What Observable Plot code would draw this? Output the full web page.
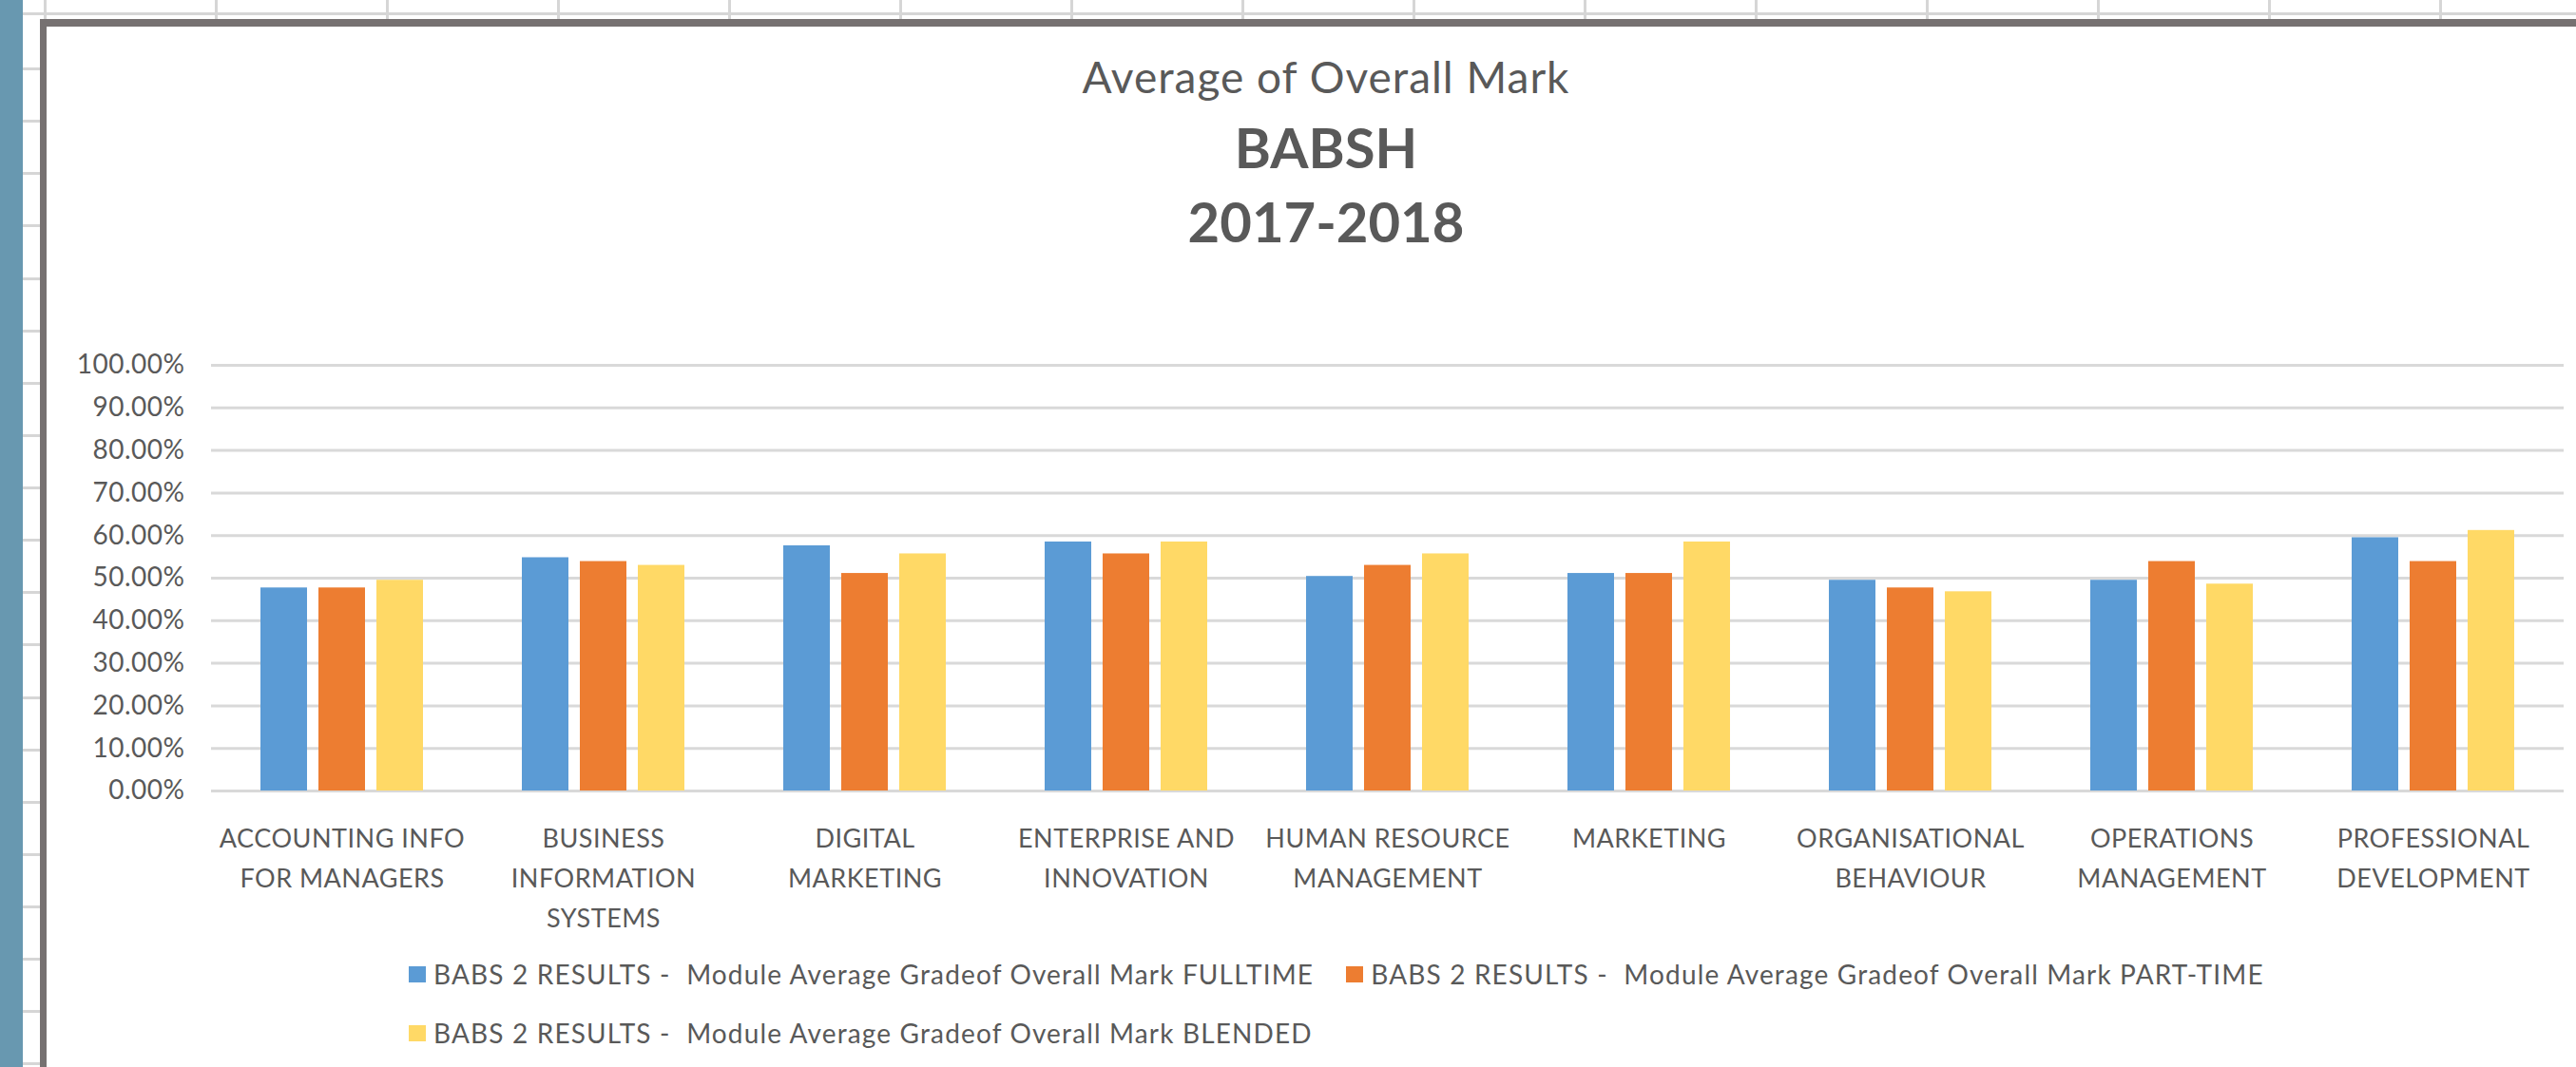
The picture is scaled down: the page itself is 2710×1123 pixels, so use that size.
<!DOCTYPE html>
<html>
<head>
<meta charset="utf-8">
<script src="https://cdn.jsdelivr.net/npm/d3@7"></script>
<script src="https://cdn.jsdelivr.net/npm/@observablehq/plot@0.6"></script>
<style>
  html, body { margin: 0; padding: 0; background: #ffffff; }
  body { width: 2710px; height: 1123px; overflow: hidden; position: relative; font-family: Lato, "Open Sans", sans-serif; }
  .abs { position: absolute; }
  #strip { left: 0; top: 0; width: 24px; height: 1123px; background: #6898b0; }
  #hline { left: 24px; top: 13px; width: 2686px; height: 3px; background: #d6d6d6; }
  .vline { top: 0; width: 3px; height: 20px; background: #d6d6d6; }
  .rowline { left: 24px; width: 18px; height: 3px; background: #d6d6d6; }
  #frame { left: 42px; top: 20px; width: 2700px; height: 1200px; border-left: 7px solid #767171; border-top: 8px solid #767171; background: #ffffff; }
  .title { left: 0; width: 2790px; text-align: center; color: #595959; white-space: nowrap; }
  #t1 { top: 55px; font-size: 46px; font-weight: 400; letter-spacing: 1px; line-height: 52px; }
  #t2 { top: 122px; font-size: 58px; font-weight: 700; line-height: 66px; }
  #t3 { top: 200px; font-size: 58px; font-weight: 700; line-height: 66px; }
  #chart { left: 0; top: 340px; }
  #chart svg text { letter-spacing: 0.5px; }
  #legend { left: 430px; top: 1010px; width: 2080px; display: flex; flex-wrap: wrap; row-gap: 32px; }
  .item { display: inline-flex; align-items: center; margin-right: 34px; color: #595959; font-size: 28px; line-height: 30px; letter-spacing: 1.15px; white-space: pre; }
  .sw { width: 18px; height: 17px; margin-right: 8px; }
</style>
</head>
<body>
<div id="strip" class="abs"></div>
<div id="hline" class="abs"></div>
<div id="frame" class="abs"></div>
<div id="t1" class="abs title">Average of Overall Mark</div>
<div id="t2" class="abs title">BABSH</div>
<div id="t3" class="abs title">2017-2018</div>
<div id="chart" class="abs"></div>
<div id="legend" class="abs"></div>
<script>
// ---- data ----
const categories = [
  "ACCOUNTING INFO FOR MANAGERS",
  "BUSINESS INFORMATION SYSTEMS",
  "DIGITAL MARKETING",
  "ENTERPRISE AND INNOVATION",
  "HUMAN RESOURCE MANAGEMENT",
  "MARKETING",
  "ORGANISATIONAL BEHAVIOUR",
  "OPERATIONS MANAGEMENT",
  "PROFESSIONAL DEVELOPMENT"
];
const categoryLabels = [
  "ACCOUNTING INFO\nFOR MANAGERS",
  "BUSINESS\nINFORMATION\nSYSTEMS",
  "DIGITAL\nMARKETING",
  "ENTERPRISE AND\nINNOVATION",
  "HUMAN RESOURCE\nMANAGEMENT",
  "MARKETING",
  "ORGANISATIONAL\nBEHAVIOUR",
  "OPERATIONS\nMANAGEMENT",
  "PROFESSIONAL\nDEVELOPMENT"
];
const seriesNames = [
  "BABS 2 RESULTS -  Module Average Gradeof Overall Mark FULLTIME",
  "BABS 2 RESULTS -  Module Average Gradeof Overall Mark PART-TIME",
  "BABS 2 RESULTS -  Module Average Gradeof Overall Mark BLENDED"
];
const fulltime = [0.477, 0.548, 0.576, 0.585, 0.504, 0.511, 0.495, 0.495, 0.595];
const parttime = [0.477, 0.539, 0.511, 0.557, 0.530, 0.511, 0.477, 0.539, 0.539];
const blended  = [0.495, 0.530, 0.557, 0.585, 0.557, 0.585, 0.468, 0.486, 0.612];
const yTicks = [0, 0.1, 0.2, 0.3, 0.4, 0.5, 0.6, 0.7, 0.8, 0.9, 1.0];
const colors = ["#5b9bd5", "#ed7d31", "#ffd966"];

// ---- spreadsheet decoration ----
for (let k = 0; k < 16; k++) {
  const v = document.createElement("div");
  v.className = "abs vline"; v.style.left = (46 + 180 * k) + "px";
  document.body.insertBefore(v, document.getElementById("frame"));
}
for (let k = 0; k < 20; k++) {
  const r = document.createElement("div");
  r.className = "abs rowline"; r.style.top = (71 + 55.13 * k) + "px";
  document.body.insertBefore(r, document.getElementById("frame"));
}

// ---- table ----
const seriesValues = [fulltime, parttime, blended];
const table = [];
categories.forEach((c, i) => {
  seriesNames.forEach((s, j) => table.push({category: c, series: s, value: seriesValues[j][i]}));
});
const labelOf = new Map(categories.map((c, i) => [c, categoryLabels[i]]));

const chart = Plot.plot({
  width: 2710,
  height: 668,
  marginLeft: 218,
  marginRight: 10,
  marginTop: 44,
  marginBottom: 176,
  style: {fontFamily: "Lato, 'Open Sans', sans-serif", fontSize: "28px", color: "#595959", background: "transparent"},
  fx: {domain: categories, padding: 0, axis: null},
  x: {domain: seriesNames, axis: null, paddingInner: 0.2, paddingOuter: 0.846},
  y: {domain: [0, 1], axis: null},
  color: {domain: seriesNames, range: colors},
  marks: [
    Plot.gridY(yTicks, {stroke: "#d9d9d9", strokeOpacity: 1, strokeWidth: 3}),
    Plot.axisY(yTicks, {tickSize: 0, tickPadding: 28, tickFormat: d3.format(".2%"), label: null, fontSize: 28, fill: "#595959", style: {letterSpacing: "1.5px"}}),
    Plot.barY(table, {fx: "category", x: "series", y: "value", fill: "series"}),
    Plot.axisFx({anchor: "bottom", tickSize: 0, tickPadding: 30, label: null, lineHeight: 1.55, fontSize: 27, fill: "#595959", tickFormat: d => labelOf.get(d)})
  ]
});
document.getElementById("chart").appendChild(chart);

// ---- legend ----
const legend = document.getElementById("legend");
seriesNames.forEach((s, j) => {
  const it = document.createElement("span");
  it.className = "item";
  const sw = document.createElement("span");
  sw.className = "sw"; sw.style.background = colors[j];
  it.appendChild(sw);
  it.appendChild(document.createTextNode(s));
  legend.appendChild(it);
});
</script>
</body>
</html>
